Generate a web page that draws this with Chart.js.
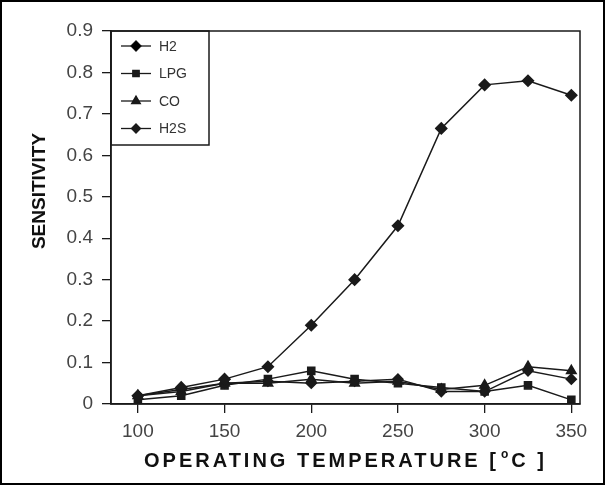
<!DOCTYPE html>
<html>
<head>
<meta charset="utf-8">
<script src="https://cdn.jsdelivr.net/npm/chart.js@4"></script>
<style>
  html, body { margin: 0; padding: 0; background: #fff; }
  #wrap { width: 605px; height: 485px; box-sizing: border-box; border: 2px solid #000; position: relative; }
  #wrap canvas { position: absolute; left: -2px; top: -2px; }
</style>
</head>
<body>
<div id="wrap"><canvas id="chart" width="605" height="485"></canvas></div>
<script>
// Sensitivity vs operating temperature, four gases
const temps = [100, 125, 150, 175, 200, 225, 250, 275, 300, 325, 350];
const h2  = [0.02, 0.04, 0.06, 0.09, 0.19, 0.30, 0.43, 0.665, 0.77, 0.78, 0.745];
const lpg = [0.01, 0.02, 0.045, 0.06, 0.08, 0.06, 0.05, 0.04, 0.03, 0.045, 0.01];
const co  = [0.02, 0.03, 0.05, 0.05, 0.06, 0.05, 0.055, 0.035, 0.045, 0.09, 0.08];
const h2s = [0.02, 0.035, 0.05, 0.055, 0.05, 0.055, 0.06, 0.03, 0.03, 0.08, 0.06];
const xTicks = [100, 150, 200, 250, 300, 350];
const yTicks = [0, 0.1, 0.2, 0.3, 0.4, 0.5, 0.6, 0.7, 0.8, 0.9];
const xTitle = ['OPERATING TEMPERATURE [', 'o', 'C ]'];
const yTitle = 'SENSITIVITY';

const INK = '#1a1a1a';
const FONT = "'Liberation Sans', Arial, sans-serif";

function series(label, ys, style, radius) {
    return {
        label: label,
        data: temps.map((t, i) => ({ x: t, y: ys[i] })),
        borderColor: INK,
        backgroundColor: INK,
        borderWidth: 1.5,
        pointStyle: style,
        pointRadius: radius,
        pointBackgroundColor: INK,
        pointBorderColor: INK,
        tension: 0,
    };
}

/* ── box frame, legend and axis titles ──────────────────── */
const frameLegend = {
    id: 'frameLegend',
    afterDraw(chart) {
        const { ctx, chartArea: a } = chart;
        ctx.save();
        ctx.strokeStyle = INK;
        ctx.lineWidth = 1.5;
        ctx.strokeRect(a.left, a.top, a.right - a.left, a.bottom - a.top);

        // legend box
        const bx = a.left, by = a.top, bw = 98, bh = 114;
        ctx.strokeRect(bx, by, bw, bh);
        ctx.font = '14px ' + FONT;
        ctx.textBaseline = 'middle';
        chart.data.datasets.forEach((ds, i) => {
            const y = by + 15 + i * 27.5;
            ctx.beginPath();
            ctx.lineWidth = 1.3;
            ctx.moveTo(bx + 10, y);
            ctx.lineTo(bx + 40, y);
            ctx.stroke();
            Chart.helpers.drawPoint(ctx, {
                pointStyle: ds.pointStyle, radius: ds.pointRadius - 0.5, borderWidth: 1
            }, bx + 25, y);
            ctx.fill();
            ctx.fillStyle = '#333';
            ctx.fillText(ds.label, bx + 48, y + 1);
            ctx.fillStyle = INK;
        });

        // x title, letter-spaced with superscript degree
        ctx.fillStyle = '#111';
        ctx.textBaseline = 'alphabetic';
        ctx.letterSpacing = '3px';
        ctx.font = 'bold 20px ' + FONT;
        let x = 144;
        const base = 467;
        ctx.fillText(xTitle[0], x, base);
        x += ctx.measureText(xTitle[0]).width + 2;
        ctx.font = 'bold 12px ' + FONT;
        ctx.fillText(xTitle[1], x, base - 9);
        x += ctx.measureText(xTitle[1]).width;
        ctx.font = 'bold 20px ' + FONT;
        ctx.fillText(xTitle[2], x, base);

        // y title
        ctx.letterSpacing = '0px';
        ctx.translate(40, 191);
        ctx.rotate(-Math.PI / 2);
        ctx.textAlign = 'center';
        ctx.textBaseline = 'middle';
        ctx.font = 'bold 19px ' + FONT;
        ctx.fillText(yTitle, 0, 0);
        ctx.restore();
    }
};

new Chart(document.getElementById('chart'), {
    type: 'line',
    data: {
        datasets: [
            series('H2', h2, 'rectRot', 5.5),
            series('LPG', lpg, 'rect', 5),
            series('CO', co, 'triangle', 5.5),
            series('H2S', h2s, 'rectRot', 5),
        ]
    },
    options: {
        responsive: false,
        animation: false,
        layout: { padding: { top: 31, right: 25, left: 0, bottom: 0 } },
        plugins: { legend: { display: false }, tooltip: { enabled: false } },
        scales: {
            x: {
                type: 'linear',
                min: 84.5,
                max: 355,
                afterBuildTicks: s => { s.ticks = xTicks.map(v => ({ value: v })); },
                afterFit: s => { s.height = 81; },
                grid: { drawOnChartArea: false, color: INK, tickLength: 9, lineWidth: 1.3 },
                border: { color: INK, width: 1.5 },
                ticks: { color: '#444', font: { family: FONT, size: 19 }, padding: 7, maxRotation: 0 },
            },
            y: {
                min: 0,
                max: 0.9,
                afterBuildTicks: s => { s.ticks = yTicks.map(v => ({ value: v })); },
                afterFit: s => { s.width = 111; },
                grid: { drawOnChartArea: false, color: INK, tickLength: 9, lineWidth: 1.3 },
                border: { color: INK, width: 1.5 },
                ticks: {
                    color: '#444',
                    font: { family: FONT, size: 19 },
                    padding: 9,
                    callback: v => (v === 0 ? '0' : v.toFixed(1))
                },
            }
        }
    },
    plugins: [frameLegend]
});
</script>
</body>
</html>
